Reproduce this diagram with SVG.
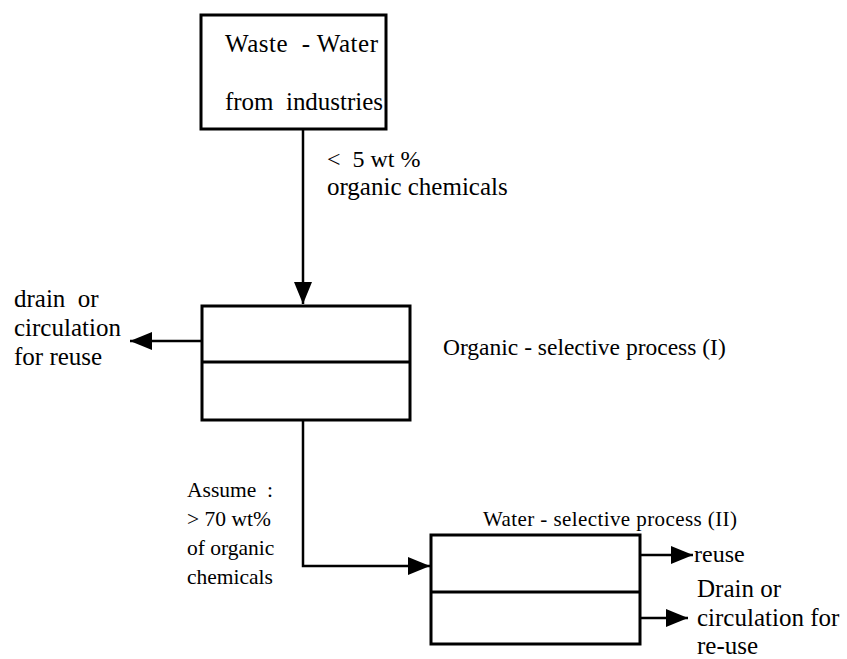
<svg xmlns="http://www.w3.org/2000/svg" width="847" height="659" viewBox="0 0 847 659">
<defs>
<style>
.box{fill:#fff;stroke:#000;stroke-width:3}
.ln{fill:none;stroke:#000;stroke-width:2.5}
text{font-family:'Liberation Serif','Times New Roman','DejaVu Serif',serif;font-size:24px;fill:#000;white-space:pre}
.big{font-size:25px}
.mid{font-size:21.5px}
</style>
<marker id="ah" markerWidth="22" markerHeight="18" refX="22" refY="9" orient="auto" markerUnits="userSpaceOnUse">
<path d="M0,0 L22,9 L0,18 Z" fill="#000"/>
</marker>
</defs>
<rect width="847" height="659" fill="#fff"/>
<g id="connectors">
<path class="ln" d="M303,129 L303,304" marker-end="url(#ah)"/>
<path class="ln" d="M202,341 L130,341" marker-end="url(#ah)"/>
<path class="ln" d="M303,420 L303,566 L430,566" marker-end="url(#ah)"/>
<path class="ln" d="M640,555 L693,555" marker-end="url(#ah)"/>
<path class="ln" d="M640,618 L688,618" marker-end="url(#ah)"/>
</g>
<g id="source">
<rect class="box" x="201" y="15" width="185" height="114"/>
<text class="big" x="225" y="52" textLength="153" lengthAdjust="spacing">Waste  - Water</text>
<text class="big" x="225" y="110" textLength="158" lengthAdjust="spacing">from  industries</text>
</g>
<g id="label-in">
<text x="327" y="167">&lt;  5 wt %</text>
<text class="big" x="327" y="195">organic chemicals</text>
</g>
<g id="process1">
<rect class="box" x="202" y="306" width="208" height="114"/>
<line class="box" x1="202" y1="362" x2="410" y2="362"/>
<text x="443" y="355" style="font-size:23.5px">Organic - selective process (I)</text>
</g>
<g id="drain1">
<text class="big" x="14" y="307">drain  or</text>
<text class="big" x="14" y="336">circulation</text>
<text class="big" x="14" y="365">for reuse</text>
</g>
<g id="label-mid">
<text class="mid" x="187" y="497">Assume  :</text>
<text class="mid" x="187" y="526">&gt; 70 wt%</text>
<text class="mid" x="187" y="555">of organic</text>
<text class="mid" x="187" y="584">chemicals</text>
</g>
<g id="process2">
<rect class="box" x="431" y="535" width="209" height="109"/>
<line class="box" x1="431" y1="592" x2="640" y2="592"/>
<text x="483" y="526" style="font-size:21px" textLength="254" lengthAdjust="spacing">Water - selective process (II)</text>
</g>
<g id="outputs">
<text x="694" y="562">reuse</text>
<text class="big" x="697" y="597">Drain or</text>
<text class="big" x="697" y="626">circulation for</text>
<text class="big" x="697" y="654">re-use</text>
</g>
</svg>
